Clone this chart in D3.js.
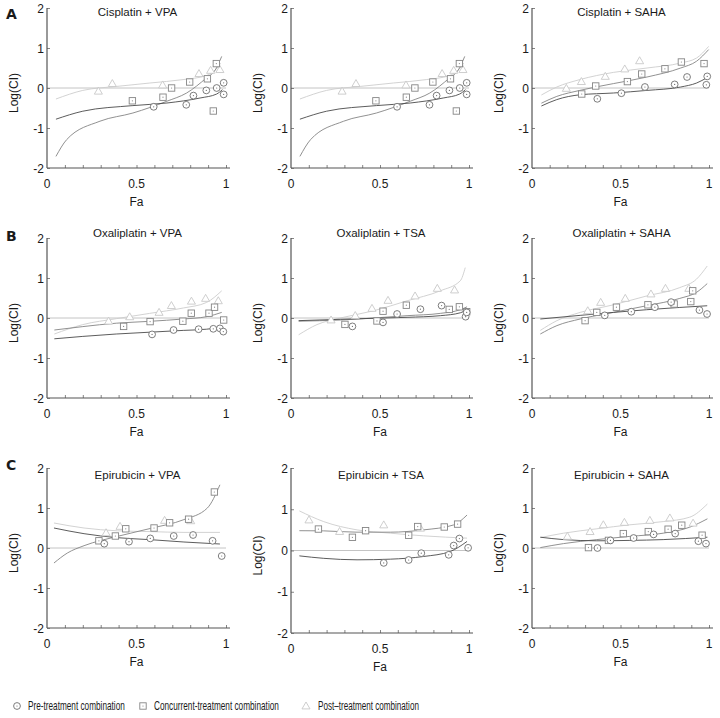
<!DOCTYPE html>
<html><head><meta charset="utf-8">
<script src="https://cdn.jsdelivr.net/npm/d3@7"></script>
<style>
body{margin:0;background:#fff}
text{font-family:"Liberation Sans",Arial,sans-serif;fill:#1a1a1a}
</style>
</head><body>
<svg id="c" width="720" height="718"></svg>
<script>
// ---------------- DATA ----------------
const xTickLabels = [0, 0.5, 1];
const yTickLabels = [-2, -1, 0, 1, 2];
const seriesNames = ["Pre-treatment combination", "Concurrent-treatment combination", "Post\u2013treatment combination"];
const panelTitles = ["Cisplatin + VPA", "", "Cisplatin + SAHA",
  "Oxaliplatin + VPA", "Oxaliplatin + TSA", "Oxaliplatin + SAHA",
  "Epirubicin + VPA", "Epirubicin + TSA", "Epirubicin + SAHA"];
const rowLabels = ["A", "B", "C"];

// Cisplatin + VPA (points [Fa, logCI])
const cisVpaPre = [[0.596,-0.47],[0.778,-0.42],[0.818,-0.19],[0.89,-0.06],[0.948,0.0],[0.987,0.13],[0.987,-0.16]];
const cisVpaConc = [[0.477,-0.32],[0.648,-0.23],[0.696,0.0],[0.797,0.15],[0.896,0.23],[0.946,0.61],[0.929,-0.575]];
const cisVpaPost = [[0.287,-0.08],[0.365,0.11],[0.646,0.075],[0.849,0.36],[0.914,0.44],[0.966,0.46]];
const cisVpaPreFit = [[0.05,-0.78],[0.2,-0.58],[0.48,-0.44],[0.67,-0.375],[0.855,-0.25],[0.948,-0.15],[0.98,-0.04]];
const cisVpaConcFit = [[0.05,-1.71],[0.11,-1.29],[0.296,-0.83],[0.48,-0.625],[0.67,-0.33],[0.78,-0.125],[0.89,0.25],[0.94,0.45],[0.976,0.79]];
const cisVpaPostFit = [[0.05,-0.275],[0.2,-0.06],[0.39,0.04],[0.575,0.125],[0.76,0.21],[0.89,0.31],[0.95,0.5],[0.97,0.62]];

// Cisplatin + SAHA
const cisSahaPre = [[0.369,-0.27],[0.505,-0.13],[0.638,0.025],[0.806,0.09],[0.876,0.275],[0.99,0.29],[0.985,0.08]];
const cisSahaConc = [[0.281,-0.15],[0.36,0.05],[0.539,0.16],[0.62,0.35],[0.751,0.48],[0.844,0.65],[0.972,0.61]];
const cisSahaPost = [[0.194,-0.01],[0.279,0.16],[0.414,0.29],[0.524,0.475],[0.608,0.68]];
const cisSahaPreFit = [[0.053,-0.45],[0.14,-0.29],[0.27,-0.17],[0.46,-0.125],[0.65,-0.06],[0.84,0.025],[0.93,0.125],[0.99,0.26]];
const cisSahaConcFit = [[0.053,-0.38],[0.14,-0.21],[0.27,-0.06],[0.46,0.11],[0.65,0.275],[0.84,0.5],[0.93,0.67],[0.998,0.96]];
const cisSahaPostFit = [[0.053,-0.175],[0.14,0.025],[0.27,0.21],[0.46,0.39],[0.65,0.5],[0.84,0.625],[0.93,0.75],[0.998,1.04]];

// Oxaliplatin + VPA
const oxaVpaPre = [[0.587,-0.41],[0.707,-0.30],[0.847,-0.28],[0.929,-0.27],[0.966,-0.26],[0.985,-0.34]];
const oxaVpaConc = [[0.428,-0.21],[0.576,-0.09],[0.759,-0.08],[0.806,0.12],[0.905,0.12],[0.936,0.27],[0.987,-0.05]];
const oxaVpaPost = [[0.344,-0.08],[0.462,0.03],[0.626,0.14],[0.695,0.31],[0.807,0.42],[0.886,0.49],[0.957,0.43]];
const oxaVpaPreFit = [[0.041,-0.52],[0.2,-0.46],[0.387,-0.4],[0.574,-0.355],[0.761,-0.31],[0.892,-0.28],[0.976,-0.23]];
const oxaVpaConcFit = [[0.041,-0.3],[0.2,-0.215],[0.387,-0.13],[0.574,-0.083],[0.761,-0.025],[0.892,0.033],[0.976,0.14]];
const oxaVpaPostFit = [[0.041,-0.4],[0.2,-0.165],[0.387,-0.017],[0.574,0.116],[0.761,0.25],[0.892,0.39],[0.976,0.68]];

// Oxaliplatin + TSA
const oxaTsaPre = [[0.345,-0.21],[0.517,-0.11],[0.596,0.1],[0.727,0.22],[0.846,0.31],[0.981,0.033],[0.987,0.14]];
const oxaTsaConc = [[0.303,-0.16],[0.483,-0.074],[0.517,0.17],[0.648,0.32],[0.889,0.215],[0.946,0.28],[0.987,0.157]];
const oxaTsaPost = [[0.225,-0.05],[0.361,0.06],[0.455,0.24],[0.545,0.44],[0.697,0.55],[0.822,0.74],[0.919,0.70]];
const oxaTsaPreFit = [[0.043,-0.066],[0.277,-0.033],[0.464,-0.008],[0.652,0.017],[0.839,0.058],[0.951,0.13],[0.989,0.22]];
const oxaTsaConcFit = [[0.043,-0.08],[0.277,-0.05],[0.464,0.0],[0.652,0.058],[0.839,0.116],[0.951,0.207],[0.989,0.28]];
const oxaTsaPostFit = [[0.043,-0.42],[0.146,-0.165],[0.277,0.0],[0.464,0.18],[0.652,0.43],[0.839,0.68],[0.951,0.93],[0.979,1.26]];

// Oxaliplatin + SAHA
const oxaSahaPre = [[0.411,0.066],[0.561,0.157],[0.694,0.27],[0.786,0.397],[0.946,0.198],[0.989,0.1]];
const oxaSahaConc = [[0.3,-0.066],[0.366,0.14],[0.477,0.27],[0.655,0.33],[0.803,0.35],[0.897,0.41],[0.908,0.68]];
const oxaSahaPost = [[0.315,0.18],[0.388,0.39],[0.527,0.49],[0.672,0.6],[0.754,0.74],[0.886,0.74]];
const oxaSahaPreFit = [[0.047,-0.025],[0.272,0.066],[0.46,0.14],[0.647,0.207],[0.835,0.264],[0.99,0.306]];
const oxaSahaConcFit = [[0.047,-0.4],[0.141,-0.19],[0.272,-0.025],[0.46,0.14],[0.647,0.306],[0.835,0.49],[0.929,0.64],[0.99,0.86]];
const oxaSahaPostFit = [[0.047,-0.31],[0.141,-0.066],[0.272,0.14],[0.46,0.33],[0.647,0.55],[0.835,0.76],[0.929,0.97],[0.99,1.3]];

// Epirubicin + VPA
const epiVpaPre = [[0.32,0.108],[0.458,0.158],[0.577,0.24],[0.708,0.3],[0.816,0.325],[0.925,0.18],[0.976,-0.2]];
const epiVpaConc = [[0.29,0.18],[0.382,0.3],[0.44,0.48],[0.598,0.5],[0.685,0.63],[0.791,0.72],[0.935,1.4]];
const epiVpaPost = [[0.33,0.38],[0.408,0.54],[0.657,0.69],[0.803,0.68]];
const epiVpaPreFit = [[0.039,0.5],[0.207,0.358],[0.393,0.258],[0.579,0.208],[0.765,0.15],[0.966,0.1]];
const epiVpaConcFit = [[0.039,-0.375],[0.114,-0.125],[0.207,0.058],[0.393,0.29],[0.579,0.49],[0.765,0.71],[0.896,1.0],[0.966,1.58]];
const epiVpaPostFit = [[0.039,0.625],[0.207,0.5],[0.393,0.43],[0.579,0.41],[0.765,0.39],[0.966,0.39]];

// Epirubicin + TSA
const epiTsaPre = [[0.521,-0.3],[0.661,-0.23],[0.732,-0.065],[0.886,-0.105],[0.914,0.12],[0.946,0.29],[0.995,0.065]];
const epiTsaConc = [[0.154,0.52],[0.345,0.32],[0.419,0.48],[0.661,0.37],[0.712,0.58],[0.861,0.57],[0.936,0.64]];
const epiTsaPost = [[0.101,0.74],[0.273,0.46],[0.521,0.62],[0.727,0.54]];
const epiTsaPreFit = [[0.047,-0.13],[0.184,-0.19],[0.371,-0.226],[0.558,-0.21],[0.745,-0.145],[0.895,-0.024],[0.989,0.22]];
const epiTsaConcFit = [[0.047,0.48],[0.184,0.476],[0.371,0.444],[0.558,0.444],[0.745,0.5],[0.914,0.62],[0.989,0.86]];
const epiTsaPostFit = [[0.047,0.96],[0.184,0.7],[0.371,0.5],[0.558,0.42],[0.745,0.355],[0.989,0.3]];

// Epirubicin + SAHA
const epiSahaPre = [[0.37,0.0],[0.443,0.19],[0.574,0.25],[0.687,0.34],[0.809,0.36],[0.94,0.17],[0.983,0.11]];
const epiSahaConc = [[0.319,0.01],[0.432,0.19],[0.516,0.36],[0.657,0.41],[0.769,0.47],[0.846,0.57],[0.961,0.32]];
const epiSahaPost = [[0.2,0.29],[0.328,0.41],[0.403,0.58],[0.522,0.64],[0.666,0.69],[0.779,0.75],[0.91,0.62]];
const epiSahaPreFit = [[0.047,0.27],[0.178,0.21],[0.366,0.18],[0.553,0.19],[0.741,0.21],[0.991,0.27]];
const epiSahaConcFit = [[0.047,0.01],[0.178,0.11],[0.366,0.21],[0.553,0.29],[0.741,0.37],[0.891,0.52],[0.991,0.73]];
const epiSahaPostFit = [[0.047,0.26],[0.178,0.37],[0.366,0.48],[0.553,0.58],[0.741,0.66],[0.891,0.77],[0.991,1.1]];

// ---------------- LAYOUT / STYLE ----------------
const panels = [
  {pre:cisVpaPre, conc:cisVpaConc, post:cisVpaPost, preFit:cisVpaPreFit, concFit:cisVpaConcFit, postFit:cisVpaPostFit, fa:true},
  {pre:cisVpaPre, conc:cisVpaConc, post:cisVpaPost, preFit:cisVpaPreFit, concFit:cisVpaConcFit, postFit:cisVpaPostFit, fa:false},
  {pre:cisSahaPre, conc:cisSahaConc, post:cisSahaPost, preFit:cisSahaPreFit, concFit:cisSahaConcFit, postFit:cisSahaPostFit, fa:true},
  {pre:oxaVpaPre, conc:oxaVpaConc, post:oxaVpaPost, preFit:oxaVpaPreFit, concFit:oxaVpaConcFit, postFit:oxaVpaPostFit, fa:true},
  {pre:oxaTsaPre, conc:oxaTsaConc, post:oxaTsaPost, preFit:oxaTsaPreFit, concFit:oxaTsaConcFit, postFit:oxaTsaPostFit, fa:true},
  {pre:oxaSahaPre, conc:oxaSahaConc, post:oxaSahaPost, preFit:oxaSahaPreFit, concFit:oxaSahaConcFit, postFit:oxaSahaPostFit, fa:true},
  {pre:epiVpaPre, conc:epiVpaConc, post:epiVpaPost, preFit:epiVpaPreFit, concFit:epiVpaConcFit, postFit:epiVpaPostFit, fa:true},
  {pre:epiTsaPre, conc:epiTsaConc, post:epiTsaPost, preFit:epiTsaPreFit, concFit:epiTsaConcFit, postFit:epiTsaPostFit, fa:true},
  {pre:epiSahaPre, conc:epiSahaConc, post:epiSahaPost, preFit:epiSahaPreFit, concFit:epiSahaConcFit, postFit:epiSahaPostFit, fa:true}
];
const colX0 = [47, 291, 532], colX1 = [226, 469, 709];
const rowTop = [8, 238, 468], rowBot = [168, 398, 628];
const titleBase = [16, 237, 479];
const rowLabelBase = [19, 241, 470];
const col = {
  pre: {mark:"#6e6e6e", line:"#4a4a4a"},
  conc:{mark:"#858585", line:"#858585"},
  post:{mark:"#c8c8c8", line:"#cdcdcd"}
};

const svg = d3.select("#c");
const lineGen = (x, y) => d3.line().x(d => x(d[0])).y(d => y(d[1])).curve(d3.curveMonotoneX);
const triPath = d3.symbol().type(d3.symbolTriangle).size(28)();

function drawMarker(g, kind, px, py, stroke) {
  if (kind === "pre") {
    g.append("circle").attr("cx", px).attr("cy", py).attr("r", 3.4)
      .attr("fill", "#fff").attr("stroke", stroke).attr("stroke-width", 0.9);
    g.append("circle").attr("cx", px).attr("cy", py).attr("r", 0.6).attr("fill", stroke);
  } else if (kind === "conc") {
    g.append("rect").attr("x", px - 3.2).attr("y", py - 3.2).attr("width", 6.4).attr("height", 6.4)
      .attr("fill", "#fff").attr("stroke", stroke).attr("stroke-width", 0.9);
    g.append("circle").attr("cx", px).attr("cy", py).attr("r", 0.6).attr("fill", stroke);
  } else {
    g.append("path").attr("d", triPath).attr("transform", `translate(${px},${py + 0.6})`)
      .attr("fill", "#fff").attr("stroke", stroke).attr("stroke-width", 0.9);
  }
}

panels.forEach((p, i) => {
  const r = Math.floor(i / 3), c = i % 3;
  const yb = (i === 7) ? 633 : rowBot[r];
  const x = d3.scaleLinear().domain([0, 1]).range([colX0[c], colX1[c]]);
  const y = d3.scaleLinear().domain([-2, 2]).range([yb, rowTop[r]]);
  const g = svg.append("g");

  // zero reference line
  g.append("line").attr("x1", x(0)).attr("x2", x(1)).attr("y1", y(0)).attr("y2", y(0))
    .attr("stroke", "#c4c4c4").attr("stroke-width", 1);

  // x axis with inward minor ticks
  const xa = g.append("g").attr("transform", `translate(0,${yb})`)
    .call(d3.axisTop(x).tickValues(d3.range(1, 11).map(k => k / 10)).tickSize(3).tickFormat(""));
  xa.select(".domain").remove();
  xa.selectAll("line").attr("stroke", "#666").attr("stroke-width", 0.8);
  g.append("line").attr("x1", x(0)).attr("x2", x(1) + 4).attr("y1", yb).attr("y2", yb)
    .attr("stroke", "#555").attr("stroke-width", 1.2);
  g.selectAll(".xl").data(xTickLabels).enter().append("text")
    .attr("x", d => x(d)).attr("y", yb + 20).attr("text-anchor", "middle")
    .attr("font-size", 12).text(d => d);

  // y axis
  const ya = g.append("g").attr("transform", `translate(${x(0)},0)`)
    .call(d3.axisRight(y).tickValues(yTickLabels).tickSize(3).tickFormat(""));
  ya.select(".domain").remove();
  ya.selectAll("line").attr("stroke", "#666").attr("stroke-width", 0.8);
  g.append("line").attr("x1", x(0)).attr("x2", x(0)).attr("y1", rowTop[r]).attr("y2", yb)
    .attr("stroke", "#555").attr("stroke-width", 1.2);
  g.selectAll(".yl").data(yTickLabels).enter().append("text")
    .attr("x", x(0) - 3).attr("y", d => y(d) + 4.5).attr("text-anchor", "end")
    .attr("font-size", 12).text(d => d);

  // axis titles
  g.append("text").attr("transform", `translate(${x(0) - 29},${(rowTop[r] + yb) / 2 + 5}) rotate(-90)`)
    .attr("text-anchor", "middle").attr("font-size", 12).text("Log(CI)");
  if (p.fa) g.append("text").attr("x", (x(0) + x(1)) / 2).attr("y", yb + 38)
    .attr("text-anchor", "middle").attr("font-size", 12).text("Fa");

  // panel title
  if (panelTitles[i]) g.append("text").attr("x", (x(0) + x(1)) / 2 + 1).attr("y", titleBase[r])
    .attr("text-anchor", "middle").attr("font-size", 11.5).text(panelTitles[i]);

  // fitted curves
  const lg = lineGen(x, y);
  [["post", p.postFit], ["conc", p.concFit], ["pre", p.preFit]].forEach(([k, d]) => {
    g.append("path").attr("d", lg(d)).attr("fill", "none")
      .attr("stroke", col[k].line).attr("stroke-width", 0.9);
  });
  // markers
  [["post", p.post], ["conc", p.conc], ["pre", p.pre]].forEach(([k, d]) => {
    d.forEach(pt => drawMarker(g, k, x(pt[0]), y(pt[1]), col[k].mark));
  });
});

// row labels
rowLabels.forEach((l, r) => {
  svg.append("text").attr("x", 6).attr("y", rowLabelBase[r]).attr("font-size", 14)
    .attr("font-weight", "bold").style("font-family", "'DejaVu Sans',sans-serif").text(l);
});

// legend (condensed lettering, scaled horizontally to the reference widths)
const legX = [17, 143, 306], legTX = [28, 154, 318], legW = [97, 125, 101];
const legKinds = ["pre", "conc", "post"];
seriesNames.forEach((n, i) => {
  const g = svg.append("g");
  drawMarker(g, legKinds[i], legX[i], 706, col[legKinds[i]].mark);
  const t = g.append("text").attr("x", 0).attr("y", 0).attr("font-size", 12).text(n);
  const w = t.node().getComputedTextLength();
  const sx = legW[i] / w;
  t.attr("transform", `translate(${legTX[i]},710) scale(${sx},1)`);
});
</script>
</body></html>
